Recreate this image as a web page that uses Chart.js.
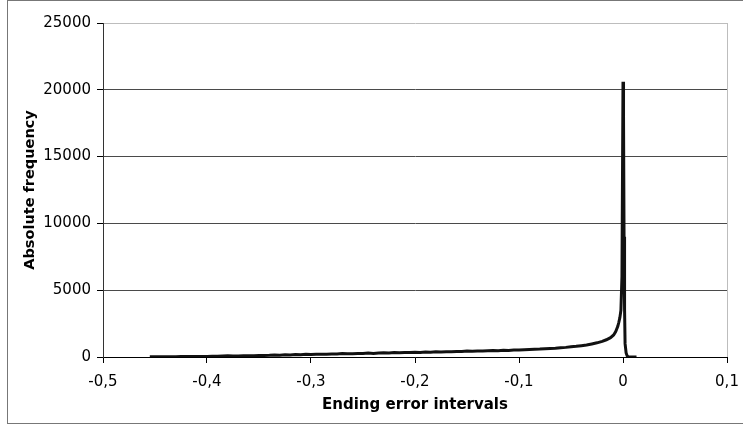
<!DOCTYPE html>
<html>
<head>
<meta charset="utf-8">
<script src="https://cdn.jsdelivr.net/npm/chart.js@4.4.1/dist/chart.umd.min.js"></script>
<style>
  html, body { margin: 0; padding: 0; background: #fff; }
  #frame { position: absolute; left: 7px; top: 0px; width: 745px; height: 424px; border: 1px solid #777; box-sizing: border-box; }
  #wrap { position: absolute; left: 0; top: 0; width: 743px; height: 427px; }
</style>
</head>
<body>
<div id="frame"></div>
<div id="wrap"><canvas id="c" width="743" height="427"></canvas></div>
<script>
// Ending error interval (bin position) and absolute frequency
const errorIntervals = [
  -0.455, -0.450, -0.445, -0.440, -0.435, -0.430, -0.425, -0.420, -0.415, -0.410,
  -0.405, -0.400, -0.395, -0.390, -0.385, -0.380, -0.375, -0.370, -0.365, -0.360,
  -0.355, -0.350, -0.345, -0.340, -0.335, -0.330, -0.325, -0.320, -0.315, -0.310,
  -0.305, -0.300, -0.295, -0.290, -0.285, -0.280, -0.275, -0.270, -0.265, -0.260,
  -0.255, -0.250, -0.245, -0.240, -0.235, -0.230, -0.225, -0.220, -0.215, -0.210,
  -0.205, -0.200, -0.195, -0.190, -0.185, -0.180, -0.175, -0.170, -0.165, -0.160,
  -0.155, -0.150, -0.145, -0.140, -0.135, -0.130, -0.125, -0.120, -0.115, -0.110,
  -0.105, -0.100, -0.095, -0.090, -0.085, -0.080, -0.075, -0.070, -0.065, -0.060,
  -0.055, -0.050, -0.045, -0.040, -0.035, -0.030, -0.025, -0.020, -0.016, -0.012,
  -0.009, -0.007, -0.005, -0.004, -0.003, -0.002, -0.001, 0.000, 0.0005, 0.001,
  0.0015, 0.002, 0.003, 0.004, 0.005, 0.006, 0.010, 0.013
];
const absoluteFrequency = [
  15, 18, 20, 22, 25, 28, 30, 33, 36, 40,
  42, 45, 55, 60, 75, 90, 70, 80, 85, 95,
  100, 110, 115, 125, 150, 140, 165, 155, 180, 170,
  200, 185, 210, 200, 215, 220, 230, 260, 240, 250,
  255, 265, 290, 270, 300, 310, 295, 330, 320, 345,
  335, 350, 340, 370, 355, 385, 370, 400, 390, 410,
  420, 450, 430, 445, 455, 470, 480, 475, 500, 495,
  520, 530, 545, 560, 575, 590, 620, 640, 660, 690,
  720, 760, 800, 850, 900, 980, 1060, 1170, 1290, 1450,
  1650, 1900, 2300, 2600, 2950, 3500, 6000, 20600, 18000, 9000,
  3600, 1000, 300, 80, 20, 0, 0, 0
];
const xTickLabels = ['-0,5', '-0,4', '-0,3', '-0,2', '-0,1', '0', '0,1'];
const yTickLabels = ['0', '5000', '10000', '15000', '20000', '25000'];

const points = errorIntervals.map((x, i) => ({ x: x, y: absoluteFrequency[i] }));
const FONT = 'DejaVu Sans, Verdana, sans-serif';

new Chart(document.getElementById('c'), {
  type: 'line',
  data: {
    datasets: [{
      data: points,
      borderColor: '#111',
      borderWidth: 3,
      pointRadius: 0,
      tension: 0,
      fill: false
    }]
  },
  options: {
    responsive: false,
    animation: false,
    events: [],
    layout: { padding: { top: 23, right: 16, left: 0, bottom: 0 } },
    plugins: { legend: { display: false }, tooltip: { enabled: false } },
    scales: {
      x: {
        type: 'linear',
        min: -0.5, max: 0.1,
        afterFit: (s) => { s.height = 70; s.paddingLeft = 0; s.paddingRight = 0; },
        ticks: {
          stepSize: 0.1,
          color: '#000',
          padding: 10,
          maxRotation: 0,
          font: { family: FONT, size: 15 },
          callback: (v, i) => xTickLabels[i]
        },
        grid: {
          drawOnChartArea: true,
          color: (ctx) => (ctx.tick && Math.abs(ctx.tick.value - 0.1) < 1e-9) ? '#bdbdbd' : 'rgba(0,0,0,0)',
          lineWidth: 1,
          tickColor: '#000',
          tickLength: 6
        },
        border: { color: '#000', width: 1 },
        title: {
          display: true,
          text: 'Ending error intervals',
          color: '#000',
          font: { family: FONT, size: 15, weight: 'bold' },
          padding: { top: 0, bottom: 13 }
        }
      },
      y: {
        min: 0, max: 25000,
        afterFit: (s) => { s.width = 103; s.paddingTop = 0; s.paddingBottom = 0; },
        ticks: {
          stepSize: 5000,
          color: '#000',
          padding: 6,
          font: { family: FONT, size: 15 },
          callback: (v, i) => yTickLabels[i]
        },
        grid: {
          color: (ctx) => (ctx.tick && ctx.tick.value === 25000) ? '#bdbdbd' : '#4a4a4a',
          lineWidth: 1,
          tickColor: '#000',
          tickLength: 6
        },
        border: { color: '#333', width: 1 },
        title: {
          display: true,
          text: 'Absolute frequency',
          color: '#000',
          font: { family: FONT, size: 14.5, weight: 'bold' },
          padding: { top: 22, bottom: 0 }
        }
      }
    }
  }
});
</script>
</body>
</html>
